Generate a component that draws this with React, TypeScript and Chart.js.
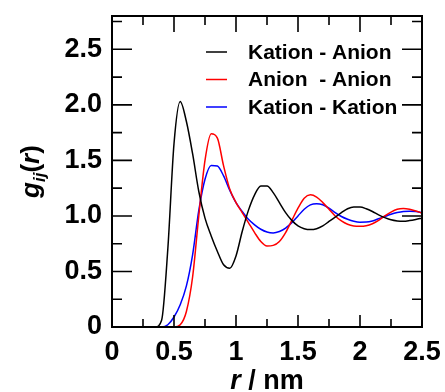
import { useEffect, useRef } from "react";
import { Chart, registerables } from "chart.js";

Chart.register(...registerables);

const FONT = '"Liberation Sans", Arial, Helvetica, sans-serif';

const rValues = [
  0, 0.05, 0.1, 0.15, 0.2, 0.25, 0.3, 0.35, 0.4, 0.45,
  0.5, 0.55, 0.6, 0.65, 0.7, 0.75, 0.8, 0.85, 0.9, 0.95,
  1.0, 1.05, 1.1, 1.15, 1.2, 1.25, 1.3, 1.35, 1.4, 1.45,
  1.5, 1.55, 1.6, 1.65, 1.7, 1.75, 1.8, 1.85, 1.9, 1.95,
  2.0, 2.05, 2.1, 2.15, 2.2, 2.25, 2.3, 2.35, 2.4, 2.45, 2.5,
];

const kationAnion = [
  0, 0, 0, 0, 0, 0, 0, 0, 0.06, 0.7,
  1.65, 2.03, 1.85, 1.56, 1.22, 0.98, 0.82, 0.68, 0.56, 0.53,
  0.64, 0.86, 1.05, 1.19, 1.27, 1.27, 1.21, 1.12, 1.03, 0.96,
  0.91, 0.885, 0.877, 0.885, 0.91, 0.95, 0.99, 1.03, 1.065, 1.08,
  1.08, 1.065, 1.04, 1.01, 0.985, 0.965, 0.955, 0.952, 0.958, 0.968, 0.98,
];

const anionAnion = [
  0, 0, 0, 0, 0, 0, 0, 0, 0, 0,
  0, 0.02, 0.14, 0.45, 1.0, 1.5, 1.74, 1.7, 1.45, 1.24,
  1.12, 1.03, 0.94, 0.85, 0.77, 0.73, 0.735, 0.77, 0.85, 0.96,
  1.07, 1.16, 1.19, 1.17, 1.12, 1.06, 1.0, 0.955, 0.925, 0.91,
  0.907, 0.912, 0.93, 0.96, 1.0, 1.035, 1.06, 1.067, 1.06, 1.045, 1.025,
];

const kationKation = [
  0, 0, 0, 0, 0, 0, 0, 0, 0, 0.02,
  0.09, 0.2, 0.37, 0.65, 1.05, 1.33, 1.455, 1.45, 1.36, 1.23,
  1.12, 1.04, 0.97, 0.92, 0.88, 0.855, 0.847, 0.86, 0.89, 0.94,
  1.0, 1.06, 1.1, 1.11, 1.1, 1.07, 1.03, 0.995, 0.97, 0.952,
  0.944, 0.945, 0.955, 0.975, 0.995, 1.015, 1.03, 1.04, 1.043, 1.04, 1.03,
];

const seriesLabels = ["Kation - Anion", "Anion  - Anion", "Kation - Kation"];
const seriesColors = ["#000000", "#ff0000", "#0000ff"];
const seriesValues = [kationAnion, anionAnion, kationKation];

const xTickValues = [0, 0.5, 1, 1.5, 2, 2.5];
const xTickLabels = ["0", "0.5", "1", "1.5", "2", "2.5"];
const yTickValues = [0, 0.5, 1, 1.5, 2, 2.5];
const yTickLabels = ["0", "0.5", "1.0", "1.5", "2.0", "2.5"];
const xMinorTicks = [0.25, 0.5, 0.75, 1, 1.25, 1.5, 1.75, 2, 2.25];
const yMinorTicks = [0.25, 0.5, 0.75, 1, 1.25, 1.5, 1.75, 2, 2.25, 2.5, 2.75];

const isMajor = (v: number) => Math.abs(v * 2 - Math.round(v * 2)) < 1e-6;

const decorPlugin = {
  id: "decor",
  afterDraw(chart: any) {
    const { ctx, chartArea: a, scales } = chart;
    const xs = scales.x;
    const ys = scales.y;
    ctx.save();
    ctx.strokeStyle = "#000";
    ctx.lineWidth = 1.6;
    ctx.beginPath();
    xMinorTicks.forEach((v) => {
      const px = xs.getPixelForValue(v);
      const major = isMajor(v);
      ctx.moveTo(px, a.bottom);
      ctx.lineTo(px, a.bottom - (major ? 12 : 8));
      ctx.moveTo(px, a.top);
      ctx.lineTo(px, a.top + (major ? 16 : 9));
    });
    yMinorTicks.forEach((v) => {
      const py = ys.getPixelForValue(v);
      const major = isMajor(v);
      ctx.moveTo(a.left, py);
      ctx.lineTo(a.left + (major ? 20 : 10), py);
      ctx.moveTo(a.right, py);
      ctx.lineTo(a.right - (major ? 20 : 10), py);
    });
    ctx.stroke();

    ctx.lineWidth = 2;
    ctx.strokeRect(a.left, a.top, a.right - a.left, a.bottom - a.top);

    // legend
    const legendY = [52, 79.5, 107];
    chart.data.datasets.forEach((ds: any, i: number) => {
      const y = legendY[i];
      ctx.strokeStyle = ds.borderColor;
      ctx.lineWidth = 1.5;
      ctx.beginPath();
      ctx.moveTo(206, y);
      ctx.lineTo(227, y);
      ctx.stroke();
      ctx.fillStyle = "#000";
      ctx.font = `bold 21px ${FONT}`;
      ctx.textAlign = "left";
      ctx.textBaseline = "middle";
      ctx.fillText(ds.label, 248, y + 1);
    });

    // x title
    ctx.fillStyle = "#000";
    ctx.textBaseline = "alphabetic";
    ctx.textAlign = "left";
    const xParts = [
      { t: "r", f: `italic bold 27px ${FONT}` },
      { t: " / nm", f: `bold 27px ${FONT}` },
    ];
    let total = 0;
    xParts.forEach((p) => {
      ctx.font = p.f;
      total += ctx.measureText(p.t).width;
    });
    let cx = (a.left + a.right) / 2 - total / 2;
    xParts.forEach((p) => {
      ctx.font = p.f;
      ctx.fillText(p.t, cx, 389);
      cx += ctx.measureText(p.t).width;
    });

    // y title
    ctx.save();
    ctx.translate(39, (a.top + a.bottom) / 2);
    ctx.rotate(-Math.PI / 2);
    const yParts = [
      { t: "g", f: `italic bold 26px ${FONT}`, dy: 0 },
      { t: "ij", f: `italic bold 17px ${FONT}`, dy: 6 },
      { t: "(", f: `bold 26px ${FONT}`, dy: 0 },
      { t: "r", f: `italic bold 26px ${FONT}`, dy: 0 },
      { t: ")", f: `bold 26px ${FONT}`, dy: 0 },
    ];
    total = 0;
    yParts.forEach((p) => {
      ctx.font = p.f;
      total += ctx.measureText(p.t).width;
    });
    cx = -total / 2;
    yParts.forEach((p) => {
      ctx.font = p.f;
      ctx.fillText(p.t, cx, p.dy);
      cx += ctx.measureText(p.t).width;
    });
    ctx.restore();

    ctx.restore();
  },
};

const labelFor = (values: number[], labels: string[]) => (v: any) => {
  const idx = values.findIndex((x) => Math.abs(x - Number(v)) < 1e-6);
  return idx >= 0 ? labels[idx] : "";
};

export default function App() {
  const ref = useRef<HTMLCanvasElement | null>(null);

  useEffect(() => {
    if (!ref.current) return;
    const chart = new Chart(ref.current, {
      type: "line",
      data: {
        datasets: seriesValues.map((vals, i) => ({
          label: seriesLabels[i],
          data: rValues.map((r, j) => ({ x: r, y: vals[j] })),
          borderColor: seriesColors[i],
          backgroundColor: seriesColors[i],
          borderWidth: 1.5,
          pointRadius: 0,
          fill: false,
          cubicInterpolationMode: "monotone" as const,
        })),
      },
      options: {
        responsive: false,
        animation: false,
        devicePixelRatio: 1,
        layout: { padding: { left: 0, top: 16, right: 23, bottom: 0 } },
        plugins: { legend: { display: false }, tooltip: { enabled: false } },
        scales: {
          x: {
            type: "linear",
            min: 0,
            max: 2.5,
            afterBuildTicks: (s: any) => {
              s.ticks = xTickValues.map((v) => ({ value: v }));
            },
            afterFit: (s: any) => {
              s.height = 65;
              s.paddingLeft = 0;
              s.paddingRight = 0;
            },
            ticks: {
              callback: labelFor(xTickValues, xTickLabels),
              font: { family: FONT, size: 27, weight: "bold" },
              color: "#000",
              padding: 9,
              maxRotation: 0,
              autoSkip: false,
            },
            grid: { display: false, drawTicks: false },
            border: { display: false },
          },
          y: {
            type: "linear",
            min: 0,
            max: 2.8,
            afterBuildTicks: (s: any) => {
              s.ticks = yTickValues.map((v) => ({ value: v }));
            },
            afterFit: (s: any) => {
              s.width = 112;
              s.paddingTop = 0;
              s.paddingBottom = 0;
            },
            ticks: {
              callback: labelFor(yTickValues, yTickLabels),
              font: { family: FONT, size: 27, weight: "bold" },
              color: "#000",
              padding: 10,
              autoSkip: false,
            },
            grid: { display: false, drawTicks: false },
            border: { display: false },
          },
        },
      },
      plugins: [decorPlugin],
    });
    return () => chart.destroy();
  }, []);

  return (
    <div
      style={{
        position: "fixed",
        left: 0,
        top: 0,
        width: 445,
        height: 392,
        background: "#fff",
      }}
    >
      <canvas ref={ref} width={445} height={392} style={{ display: "block" }} />
    </div>
  );
}
